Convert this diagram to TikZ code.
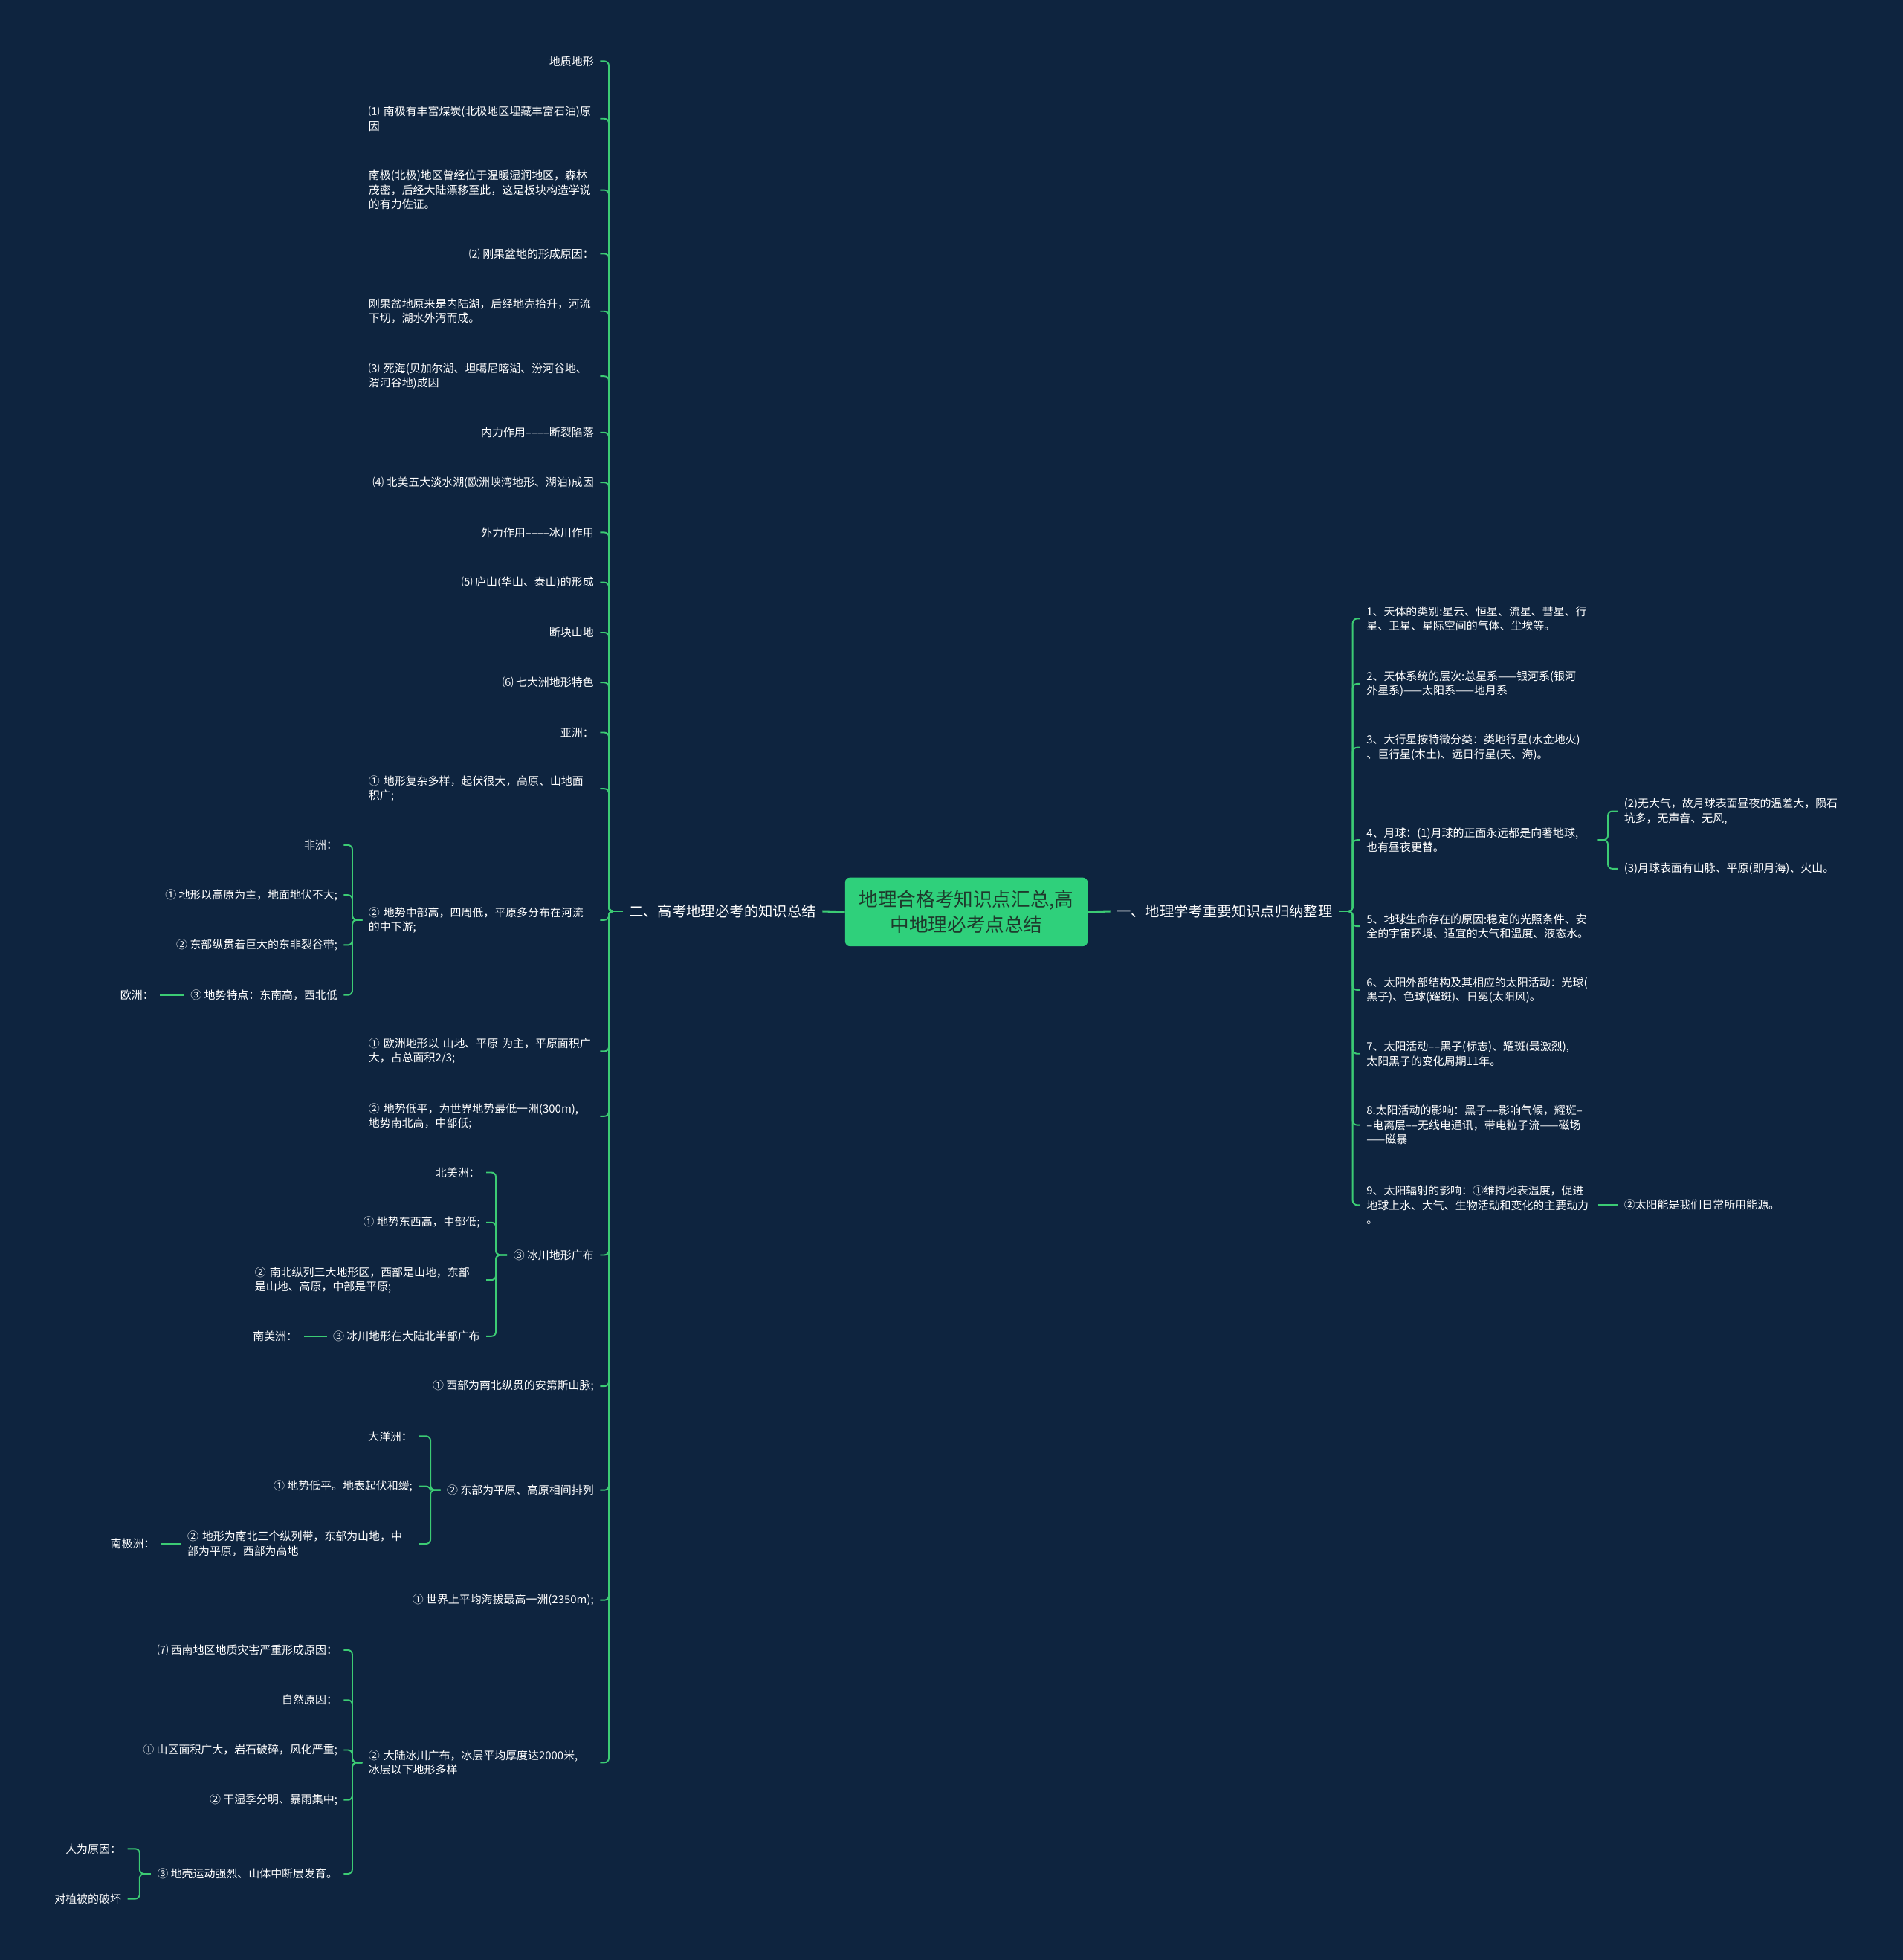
\documentclass[tikz,border=0pt]{standalone}
\usepackage{fontspec}
\setmainfont{Noto Sans CJK SC}
\usepackage{xcolor}
\usepackage{tikz}
\definecolor{navyBG}{HTML}{0E243F}
\definecolor{greenL}{HTML}{3CCB74}
\definecolor{greenR}{HTML}{2FD07B}
\definecolor{darkT}{HTML}{1E3A2C}
\newcommand\leaffont{\fontsize{10.8pt}{14pt}\selectfont}
\tikzset{
  rootbox/.style={
    fill=greenR, text=darkT, rounded corners=1.7mm,
    minimum width=82.9mm, minimum height=23.5mm, align=center,
    font=\fontsize{18.5pt}{25pt}\selectfont
  },
  sect/.style={text=white, inner xsep=2.1mm, font=\fontsize{14pt}{17pt}\selectfont},
  leafL/.style={anchor=east, text=white, inner xsep=2.1mm, inner ysep=0.5mm, font=\leaffont},
  wrapL/.style={leafL, text width=76.9mm, align=left},
  wrapR/.style={
    anchor=west, text=white, inner xsep=2.1mm, inner ysep=0.5mm,
    text width=76.9mm, align=left, font=\leaffont
  },
  link/.style={draw=greenL, line width=1.4pt, rounded corners=1.5mm},
  trunk/.style={draw=greenL, line width=2.2pt}
}
\begin{document}
\begin{tikzpicture}[x=0.4272mm, y=-0.4272mm]
  \fill[navyBG] (0,0) rectangle (1522,1568);
  \useasboundingbox (0,0) rectangle (1522,1568);

  \node[rootbox] (root) at (773,729.5) {地理合格考知识点汇总,高\\中地理必考点总结};
  \node[sect, anchor=west] (secL) at (498,729) {二、高考地理必考的知识总结};
  \node[sect, anchor=east] (secR) at (1071,729) {一、地理学考重要知识点归纳整理};
  \draw[trunk] (root.west) -- (secL.east);
  \draw[trunk] (root.east) -- (secR.west);

  % left branch
  \node[leafL] (geo) at (480,49) {地质地形};
  \node[wrapL] (coal) at (480,95) {⑴ 南极有丰富煤炭(北极地区埋藏丰富石油)原\\因};
  \node[wrapL] (drift) at (480,152) {南极(北极)地区曾经位于温暖湿润地区，森林\\茂密，后经大陆漂移至此，这是板块构造学说\\的有力佐证。};
  \node[leafL] (congo) at (480,203) {⑵ 刚果盆地的形成原因：};
  \node[wrapL] (congoA) at (480,249) {刚果盆地原来是内陆湖，后经地壳抬升，河流\\下切，湖水外泻而成。};
  \node[wrapL] (dead) at (480,301) {⑶ 死海(贝加尔湖、坦噶尼喀湖、汾河谷地、\\渭河谷地)成因};
  \node[leafL] (inner) at (480,346) {内力作用––––断裂陷落};
  \node[leafL] (lakes) at (480,386) {⑷ 北美五大淡水湖(欧洲峡湾地形、湖泊)成因};
  \node[leafL] (outer) at (480,426) {外力作用––––冰川作用};
  \node[leafL] (lushan) at (480,466) {⑸ 庐山(华山、泰山)的形成};
  \node[leafL] (block) at (480,506) {断块山地};
  \node[leafL] (seven) at (480,546) {⑹ 七大洲地形特色};
  \node[leafL] (asia) at (480,586) {亚洲：};
  \node[wrapL] (asiaA) at (480,631) {① 地形复杂多样，起伏很大，高原、山地面\\积广;};
  \node[wrapL] (asiaB) at (480,736) {② 地势中部高，四周低，平原多分布在河流\\的中下游;};
  \node[wrapL] (euA) at (480,841) {① 欧洲地形以 山地、平原 为主，平原面积广\\大，占总面积2/3;};
  \node[wrapL] (euB) at (480,893) {② 地势低平，为世界地势最低一洲(300m),\\地势南北高，中部低;};
  \node[leafL] (glacier) at (480,1004) {③ 冰川地形广布};
  \node[leafL] (andes) at (480,1109) {① 西部为南北纵贯的安第斯山脉;};
  \node[leafL] (plains) at (480,1192) {② 东部为平原、高原相间排列};
  \node[leafL] (highest) at (480,1280) {① 世界上平均海拔最高一洲(2350m);};
  \node[wrapL] (icesheet) at (480,1410) {② 大陆冰川广布，冰层平均厚度达2000米,\\冰层以下地形多样};
  \foreach \k in {geo,coal,drift,congo,congoA,dead,inner,lakes,outer,lushan,block,
                  seven,asia,asiaA,asiaB,euA,euB,glacier,andes,plains,highest,icesheet}
    \draw[link] (secL.west) -- ++(-11,0) |- (\k.east);

  \node[leafL] (africa) at (275,676) {非洲：};
  \node[leafL] (afA) at (275,716) {① 地形以高原为主，地面地伏不大;};
  \node[leafL] (afB) at (275,756) {② 东部纵贯着巨大的东非裂谷带;};
  \node[leafL] (afC) at (275,796) {③ 地势特点：东南高，西北低};
  \node[leafL] (europe) at (128,796) {欧洲：};
  \foreach \k in {africa,afA,afB,afC}
    \draw[link] (asiaB.west) -- ++(-8,0) |- (\k.east);
  \draw[link] (afC.west) -- (europe.east);

  \node[leafL] (namer) at (389,938) {北美洲：};
  \node[leafL] (naA) at (389,978) {① 地势东西高，中部低;};
  \node[wrapL] (naB) at (389,1024) {② 南北纵列三大地形区，西部是山地，东部\\是山地、高原，中部是平原;};
  \node[leafL] (naC) at (389,1069) {③ 冰川地形在大陆北半部广布};
  \node[leafL] (samer) at (243,1069) {南美洲：};
  \foreach \k in {namer,naA,naB,naC}
    \draw[link] (glacier.west) -- ++(-9,0) |- (\k.east);
  \draw[link] (naC.west) -- (samer.east);

  \node[leafL] (ocean) at (335,1149) {大洋洲：};
  \node[leafL] (ocA) at (335,1189) {① 地势低平。地表起伏和缓;};
  \node[wrapL] (ocB) at (335,1235) {② 地形为南北三个纵列带，东部为山地，中\\部为平原，西部为高地};
  \node[leafL] (antarc) at (129,1235) {南极洲：};
  \foreach \k in {ocean,ocA,ocB}
    \draw[link] (plains.west) -- ++(-8,0) |- (\k.east);
  \draw[link] (ocB.west) -- (antarc.east);

  \node[leafL] (sw) at (275,1320) {⑺ 西南地区地质灾害严重形成原因：};
  \node[leafL] (natural) at (275,1360) {自然原因：};
  \node[leafL] (swA) at (275,1400) {① 山区面积广大，岩石破碎，风化严重;};
  \node[leafL] (swB) at (275,1440) {② 干湿季分明、暴雨集中;};
  \node[leafL] (swC) at (275,1499) {③ 地壳运动强烈、山体中断层发育。};
  \foreach \k in {sw,natural,swA,swB,swC}
    \draw[link] (icesheet.west) -- ++(-8,0) |- (\k.east);
  \node[leafL] (human) at (102,1479) {人为原因：};
  \node[leafL] (veget) at (102,1519) {对植被的破坏};
  \foreach \k in {human,veget}
    \draw[link] (swC.west) -- ++(-9,0) |- (\k.east);

  % right branch
  \node[wrapR] (r1) at (1088,495) {1、天体的类别:星云、恒星、流星、彗星、行\\星、卫星、星际空间的气体、尘埃等。};
  \node[wrapR] (r2) at (1088,547) {2、天体系统的层次:总星系——银河系(银河\\外星系)——太阳系——地月系};
  \node[wrapR] (r3) at (1088,598) {3、大行星按特徵分类：类地行星(水金地火)\\、巨行星(木土)、远日行星(天、海)。};
  \node[wrapR] (r4) at (1088,672) {4、月球：(1)月球的正面永远都是向著地球,\\也有昼夜更替。};
  \node[wrapR] (r5) at (1088,741) {5、地球生命存在的原因:稳定的光照条件、安\\全的宇宙环境、适宜的大气和温度、液态水。};
  \node[wrapR] (r6) at (1088,792) {6、太阳外部结构及其相应的太阳活动：光球(\\黑子)、色球(耀斑)、日冕(太阳风)。};
  \node[wrapR] (r7) at (1088,843) {7、太阳活动––黑子(标志)、耀斑(最激烈),\\太阳黑子的变化周期11年。};
  \node[wrapR] (r8) at (1088,900) {8.太阳活动的影响：黑子––影响气候，耀斑–\\–电离层––无线电通讯，带电粒子流——磁场\\——磁暴};
  \node[wrapR] (r9) at (1088,964) {9、太阳辐射的影响：①维持地表温度，促进\\地球上水、大气、生物活动和变化的主要动力\\。};
  \foreach \k in {r1,r2,r3,r4,r5,r6,r7,r8,r9}
    \draw[link] (secR.east) -- ++(11,0) |- (\k.west);

  \node[wrapR] (moonB) at (1294,649) {(2)无大气，故月球表面昼夜的温差大，陨石\\坑多，无声音、无风,};
  \node[wrapR] (moonC) at (1294,695) {(3)月球表面有山脉、平原(即月海)、火山。};
  \foreach \k in {moonB,moonC}
    \draw[link] (r4.east) -- ++(8,0) |- (\k.west);
  \node[wrapR] (solar) at (1294,964) {②太阳能是我们日常所用能源。};
  \draw[link] (r9.east) -- (solar.west);
\end{tikzpicture}
\end{document}
